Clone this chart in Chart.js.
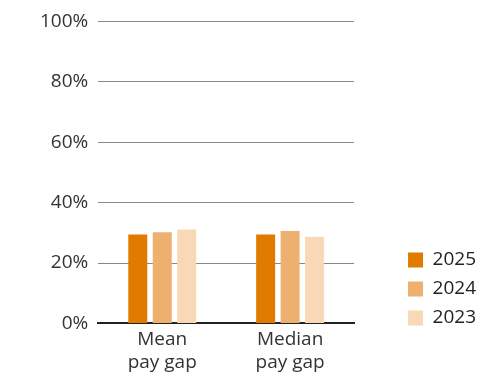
<!DOCTYPE html>
<html>
<head>
<meta charset="utf-8">
<script src="https://cdn.jsdelivr.net/npm/chart.js@4"></script>
<style>
    html, body { margin: 0; padding: 0; background: #fff; }
    #wrap { width: 487px; height: 381px; position: relative; }
</style>
</head>
<body>
<div id="wrap"><canvas id="PayGapChart"></canvas></div>
<script>
var categories = [["Mean", "pay gap"], ["Median", "pay gap"]];
var years = ["2025", "2024", "2023"];
var gap2025 = [29.4, 29.4];
var gap2024 = [30.2, 30.6];
var gap2023 = [31.1, 28.7];
var yTicks = [0, 20, 40, 60, 80, 100];

var yearColours = ['rgb(224, 123, 0)', 'rgb(237, 176, 111)', 'rgb(248, 216, 183)'];

Chart.defaults.font.family = "'Open Sans', 'Noto Sans', sans-serif";
Chart.defaults.color = '#333';

function makeDataset(label, values, colour) {
    return {
        label: label,
        data: values,
        backgroundColor: colour,
        borderWidth: 0,
        categoryPercentage: 0.574,
        barPercentage: 0.776
    };
}

// nudge the legend away from the plot and down towards the axis
var legendShift = {
    id: "legendShift",
    afterLayout: function (chart) {
        var lg = chart.legend;
        lg.left += 44;
        lg.right += 44;
        lg.top += 14;
        lg.bottom += 14;
    }
};

var payGapContext = document.getElementById("PayGapChart").getContext("2d");
var payGapChart = new Chart(payGapContext, {
    type: "bar",
    data: {
        labels: categories,
        datasets: [
            makeDataset(years[0], gap2025, yearColours[0]),
            makeDataset(years[1], gap2024, yearColours[1]),
            makeDataset(years[2], gap2023, yearColours[2])
        ]
    },
    plugins: [legendShift],
    options: {
        responsive: true,
        maintainAspectRatio: false,
        animation: false,
        layout: { padding: { left: 30, right: 45, top: 6, bottom: 2 } },
        plugins: {
            tooltip: { enabled: false },
            legend: {
                position: "right",
                align: "end",
                fullSize: false,
                labels: {
                    boxWidth: 15,
                    boxHeight: 15,
                    padding: 10,
                    font: { size: 19 },
                    color: '#222'
                }
            }
        },
        scales: {
            x: {
                grid: { display: false, drawTicks: false },
                border: { display: true, color: '#222', width: 2 },
                ticks: { font: { size: 19 }, padding: 5, maxRotation: 0 }
            },
            y: {
                min: 0,
                max: 100,
                afterBuildTicks: function (axis) {
                    axis.ticks = yTicks.map(function (v) { return { value: v }; });
                },
                grid: { color: '#888', lineWidth: 1, drawTicks: false },
                border: { display: false },
                ticks: {
                    font: { size: 19 },
                    padding: 10,
                    callback: function (value) { return value + "%"; }
                }
            }
        }
    }
});
</script>
</body>
</html>
